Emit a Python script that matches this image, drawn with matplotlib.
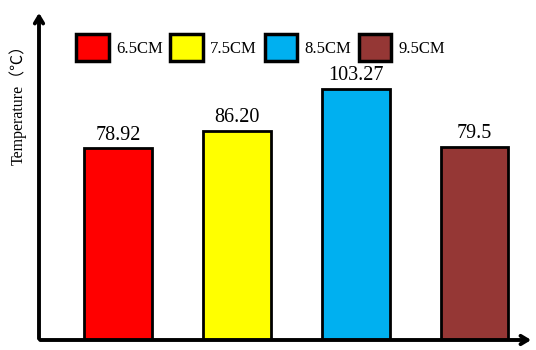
import matplotlib
matplotlib.use("Agg")
import matplotlib.pyplot as plt
import matplotlib.patches as patches

labels = ["6.5CM", "7.5CM", "8.5CM", "9.5CM"]
temps = [78.92, 86.20, 103.27, 79.5]
value_text = ["78.92", "86.20", "103.27", "79.5"]
colors = ["#FF0000", "#FFFF00", "#00B0F0", "#953735"]

plt.rcParams["font.family"] = ["Liberation Serif", "Noto Sans CJK SC", "DejaVu Sans"]

W, H = 536, 350
fig = plt.figure(figsize=(W / 100, H / 100), dpi=100)
# axes box: origin at (39, 340) px, top at 12 px, right end at 534 px
ax = fig.add_axes([39 / W, 10 / H, 495 / W, 328 / H])

x = range(len(temps))
ax.bar(x, temps, width=0.57, color=colors, edgecolor="black", linewidth=2, zorder=2)
for xi, v, t in zip(x, temps, value_text):
    ax.text(xi, v + 1.5, t, ha="center", va="bottom", fontsize=14.5)

ax.set_xlim(-0.665, 3.5)
ax.set_ylim(0, 135)
for s in ax.spines.values():
    s.set_visible(False)
ax.set_xticks([])
ax.set_yticks([])

# axis lines with arrow heads
ox, oy = 39 / W, 1 - 340 / H
arrow = dict(arrowstyle="->,head_length=0.5,head_width=0.3", lw=2.8, color="black")
ax.annotate("", xy=(ox, 1 - 10 / H), xytext=(ox, oy - 0.004), xycoords="figure fraction",
            arrowprops=arrow)
ax.annotate("", xy=(534 / W, oy), xytext=(ox - 0.003, oy), xycoords="figure fraction",
            arrowprops=arrow)

fig.text(18 / W, 1 - 101 / H, "Temperature（℃）", rotation=90, ha="center", va="center", fontsize=11.5)

handles = [patches.Patch(facecolor=c, edgecolor="black", linewidth=2.5, label=l)
           for c, l in zip(colors, labels)]
ax.legend(handles=handles, ncol=4, frameon=False, fontsize=12,
          loc="upper left", bbox_to_anchor=(76 / W, 1 - 34 / H), bbox_transform=fig.transFigure,
          borderaxespad=0, borderpad=0, handlelength=1.95, handleheight=2.15,
          handletextpad=0.45, columnspacing=0.45)

fig.savefig("out.png", dpi=100)
